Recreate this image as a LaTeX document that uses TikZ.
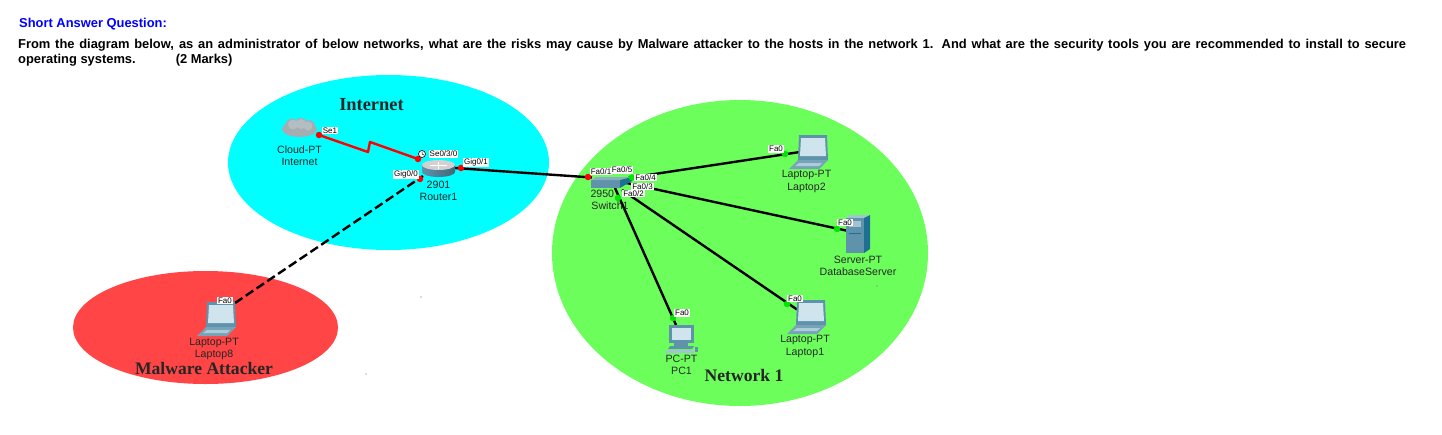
\documentclass[tikz,border=0pt]{standalone}
\usepackage{xcolor}
\usepackage{fontspec}
\setmainfont{Liberation Sans}
\newfontfamily\titlefont{Liberation Serif}
\usetikzlibrary{arrows.meta,calc,positioning}
\definecolor{skyzone}{HTML}{00FFFF}
\definecolor{lanzone}{HTML}{6CFF5C}
\definecolor{badzone}{HTML}{FF4545}
\definecolor{steel}{HTML}{5F93AC}
\definecolor{steeldark}{HTML}{1F6F93}
\definecolor{steellight}{HTML}{CFE4EC}
\definecolor{cloudgrey}{HTML}{A4AEB2}
\definecolor{cloudlight}{HTML}{B4BEC2}
\begin{document}
\begin{tikzpicture}[x=1pt,y=-1pt,line cap=butt,line join=round,
  question/.style={font=\fontsize{12.9}{14}\selectfont\bfseries,anchor=west,inner sep=0pt},
  zonetitle/.style={font=\fontsize{17.6}{20}\selectfont\titlefont\bfseries,text=black!85,inner sep=0pt},
  devtext/.style={font=\fontsize{10.6}{12.5}\selectfont,text=black!85,inner sep=0pt},
  portlabel/.style={font=\fontsize{8}{9}\selectfont,fill=white,inner sep=.8pt},
  portup/.style={circle,fill=green!90!black,inner sep=0pt,minimum size=6.5pt},
  portdown/.style={circle,fill=red,inner sep=0pt,minimum size=6.5pt},
  link/.style={line width=2.4pt,black},
  laptop/.pic={
    \fill[steel](1,0)--(29,0)--(30,25)--(0,25)--cycle;
    \fill[steellight](3,3)--(27,3)--(28,21)--(2,21)--cycle;
    \fill[steel!85!white](0,25)--(30,25)--(21,34)--(-9,34)--cycle;
    \fill[steellight!70!steel](1,28)--(24,28)--(21,31)--(-3,31)--cycle;
  },
  serverbox/.pic={
    \fill[steellight!60!steel](0,3)--(4,0)--(24,0)--(18,3)--cycle;
    \fill[steel](0,3) rectangle (18,38);
    \fill[steeldark](18,3)--(24,0)--(24,34)--(18,38)--cycle;
    \fill[steellight!60!steel](3,6) rectangle (15,12);
    \draw[steeldark,line width=.5pt](3,18)--(15,18);
  },
  pcbox/.pic={
    \fill[steel](1,0) rectangle (26,18);
    \fill[steellight](4,3) rectangle (23,15);
    \fill[steel](6,18) rectangle (20,21);
    \fill[steel](2,21)--(26,21)--(24,24)--(0,24)--cycle;
    \fill[steellight!60!steel](-1,25)--(25,25)--(27,28)--(-3,28)--cycle;
    \fill[steel](27,22) rectangle (30,27);
  }]
\useasboundingbox(0,0)rectangle(1442,434);
\fill[white](0,0)rectangle(1442,434);
% heading
\node[question,text=blue](head)at(19,24.5){Short Answer Question:};
\node[question](line1)at(18,45){\makebox[1388pt][s]{From the diagram below, as an administrator of below networks, what are the risks may cause by Malware attacker to the hosts in the network 1. And what are the security tools you are recommended to install to secure}};
\node[question](line2)at(18,60){operating systems.\hspace{40pt}(2 Marks)};
% zones
\fill[skyzone](388.5,162.5)ellipse[x radius=160.5,y radius=87.5];
\fill[lanzone](740,253)ellipse[x radius=188,y radius=153];
\fill[badzone](205.5,327.5)ellipse[x radius=132.5,y radius=56.5];
\foreach \x/\y in {421/297,366/374,877/286}
  \fill[black!60](\x,\y)circle(.6);
\node[zonetitle,font=\fontsize{18.4}{20}\selectfont\titlefont\bfseries](inettitle)at(371.5,105){Internet};
\node[zonetitle](lantitle)at(744,375){Network 1};
% link ends
\coordinate(cloudend)at(319,135);
\coordinate(bendA)at(368,152);
\coordinate(bendB)at(370,142);
\coordinate(rtserial)at(418,159);
\coordinate(rtright)at(455,168);
\coordinate(rtdash)at(423,176);
\coordinate(swleft)at(592,177.5);
\coordinate(swA)at(628,178);
\coordinate(swB)at(622,182);
\coordinate(swC)at(622,190);
\coordinate(swD)at(615,188);
\coordinate(lapA)at(800,152);
\coordinate(srvend)at(846,230.5);
\coordinate(lapB)at(797,309.5);
\coordinate(pcend)at(676,325);
\coordinate(lapC)at(235,303);
% connectors
\draw[red,line width=2.4pt](cloudend)--(bendA)--(bendB)--(rtserial);
\draw[link](rtright)--(swleft);
\draw[link,dash pattern=on 9pt off 4pt](lapC)--(rtdash);
\draw[link](swA)--(lapA);
\draw[link](swB)--(srvend);
\draw[link](swC)--(lapB);
\draw[link](swD)--(pcend);
% cloud
\fill[cloudgrey](299.5,129)ellipse[x radius=17.5,y radius=8];
\fill[cloudgrey](292,125)circle(6.5)(301,124.5)circle(6.5)(309,126)circle(6);
\fill[cloudlight](293,124.5)circle(5)(301,124)circle(5)(308,126)circle(4.5);
% router
\path[left color=steel,middle color=steellight,right color=steel!70!black](422,165)--(422,172)arc[start angle=180,end angle=360,x radius=16.5,y radius=-5]--(455,165)--cycle;
\fill[black!18](438.5,165)ellipse[x radius=16.5,y radius=5];
\draw[white,line width=.7pt](430,165)--(447,165)(438.5,161.5)--(438.5,168.5);
% switch
\fill[steel](591,180)rectangle(620,188);
\fill[steel!75!white](591,180)--(596,177)--(632,177)--(620,180)--cycle;
\fill[steeldark](620,180)--(632,177)--(632,181)--(620,188)--cycle;
% end devices
\pic at(798,135){laptop};
\pic at(796,300){laptop};
\pic at(206,302){laptop};
\pic at(846,215){serverbox};
\pic at(668,325){pcbox};
% port dots
\node[portdown](dotcloud)at(319,135){};
\node[portdown](dotserial)at(418,159){};
\node[portdown](dotright)at(461,168){};
\node[portdown](dotdash)at(420,179){};
\node[portdown](dotsw)at(588,177){};
\node[portup](dotswA)at(632,177.5){};
\node[portup](dotswB)at(618,198){};
\node[portup](dotlapA)at(785,154){};
\node[portup](dotsrv)at(837,229){};
\node[portup](dotlapB)at(787,304){};
\node[portup](dotpc)at(673,318){};
% port names
\foreach \n/\x/\y/\t in {pSeA/330/130.5/{Se1},pSeB/443.5/154/{Se0/3/0},pGiA/476/162.5/{Gig0/1},pGiB/406/174.5/{Gig0/0},
  pFaA/601/171.5/{Fa0/1},pFaE/622/170/{Fa0/5},pFaC/642.5/186.5/{Fa0/3},pFaD/645.5/177.5/{Fa0/4},pFaB/633.5/193.5/{Fa0/2},
  pLpA/776/149/{Fa0},pSv/845/222.5/{Fa0},pLpB/795/298.5/{Fa0},pPc/682/313/{Fa0},pLpC/225/300.5/{Fa0}}
  \node[portlabel](\n)at(\x,\y){\t};
% clock on the serial port
\node[circle,draw=black,fill=white,line width=.6pt,inner sep=0pt,minimum size=7pt](clockmark)at(422,154){};
\draw[line width=.5pt](clockmark.center)--(422,151.5)(clockmark.center)--(424,155);
% device captions
\node[devtext,align=center](capcloud)at(299.5,155.5){Cloud-PT\\Internet};
\node[devtext,align=center](caprouter)at(438.5,191){2901\\Router1};
\node[devtext,align=center](capswitch)at(610,200){\makebox[39pt][l]{2950}\\Switch1};
\node[devtext,align=center](caplapA)at(806.5,181.5){Laptop-PT\\Laptop2};
\node[devtext,align=center](capsrv)at(858,266){Server-PT\\DatabaseServer};
\node[devtext,align=center](caplapB)at(805,346.5){Laptop-PT\\Laptop1};
\node[devtext,align=center](cappc)at(681.5,365){PC-PT\\PC1};
\node[devtext,align=center](caplapC)at(214,349){Laptop-PT\\Laptop8};
\node[zonetitle](badtitle)at(204,368){Malware Attacker};
\end{tikzpicture}
\end{document}
